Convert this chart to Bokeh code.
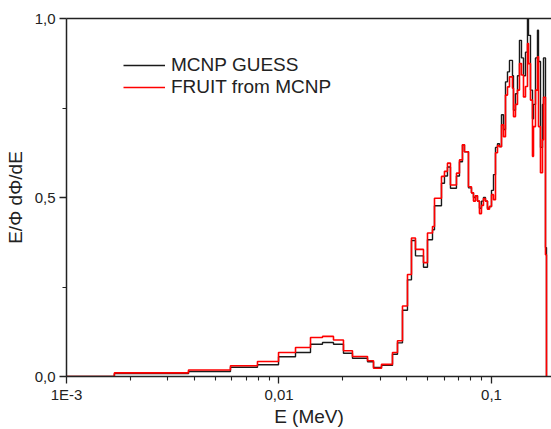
from bokeh.plotting import figure
from bokeh.models import (Range1d, FixedTicker, LogAxis, Legend, LegendItem)
from bokeh.embed import file_html
from bokeh.resources import INLINE

# Energy bin edges (MeV)
edges = [0.001, 0.00168, 0.00375, 0.00591, 0.00792, 0.00995, 0.01196, 0.01407,
         0.01602, 0.01805, 0.02011, 0.02217, 0.0261, 0.02785, 0.03037, 0.0342,
         0.03611, 0.03812, 0.04024, 0.04202, 0.04388, 0.04786, 0.04998, 0.05277,
         0.05392, 0.05816, 0.06008, 0.06206, 0.06411, 0.06842, 0.07068, 0.07302,
         0.07462, 0.07792, 0.0805, 0.08226, 0.08406, 0.0859, 0.08778, 0.08971,
         0.09167, 0.09368, 0.09573, 0.09783, 0.1, 0.10219, 0.10443, 0.10672,
         0.10905, 0.11144, 0.11388, 0.11638, 0.11892, 0.12153, 0.12554, 0.12691,
         0.12969, 0.13253, 0.13543, 0.1384, 0.14143, 0.14454, 0.1477, 0.14931,
         0.15258, 0.15593, 0.15763, 0.16108, 0.16461, 0.1664, 0.17005, 0.17378,
         0.17567, 0.17952, 0.18148]

# MCNP GUESS (black)
mcnp_guess = [0, 0.008, 0.014, 0.026, 0.033, 0.055, 0.067, 0.090, 0.095, 0.090,
              0.065, 0.051, 0.041, 0.025, 0.031, 0.062, 0.094, 0.185, 0.270, 0.380,
              0.337, 0.305, 0.382, 0.410, 0.477, 0.540, 0.560, 0.585, 0.526, 0.560,
              0.600, 0.647, 0.628, 0.527, 0.513, 0.500, 0.505, 0.490, 0.470, 0.490,
              0.500, 0.490, 0.470, 0.475, 0.520, 0.564, 0.640, 0.650, 0.642, 0.731,
              0.690, 0.823, 0.851, 0.883, 0.840, 0.744, 0.790, 0.840, 0.939, 0.890,
              0.840, 0.906, 0.999, 0.953, 0.800, 0.720, 0.760, 0.890, 0.967, 0.880,
              0.640, 0.760, 0.890, 0.360]

# FRUIT from MCNP (red)
fruit = [0, 0.010, 0.018, 0.030, 0.042, 0.067, 0.081, 0.109, 0.112, 0.102,
         0.072, 0.056, 0.044, 0.023, 0.034, 0.067, 0.100, 0.197, 0.285, 0.387,
         0.355, 0.318, 0.401, 0.419, 0.498, 0.559, 0.573, 0.596, 0.535, 0.568,
         0.605, 0.647, 0.628, 0.530, 0.513, 0.490, 0.505, 0.490, 0.455, 0.478,
         0.497, 0.490, 0.467, 0.475, 0.508, 0.494, 0.625, 0.645, 0.642, 0.703,
         0.670, 0.786, 0.809, 0.837, 0.805, 0.726, 0.760, 0.800, 0.874, 0.842,
         0.781, 0.810, 0.930, 0.874, 0.772, 0.615, 0.698, 0.800, 0.893, 0.698,
         0.569, 0.661, 0.780, 0.340]

x_ticks = [0.001, 0.01, 0.1]
x_tick_labels = ["1E-3", "0,01", "0,1"]
y_ticks = [0.0, 0.5, 1.0]
y_tick_labels = ["0,0", "0,5", "1,0"]
y_minor = [0.25, 0.75]
x_minor = [k * d for d in (0.001, 0.01, 0.1) for k in range(2, 10)]

FONT = "Liberation Sans"

p = figure(width=551, height=429, x_axis_type="log",
           x_range=Range1d(0.001, 0.1916), y_range=Range1d(0.0, 1.0),
           output_backend="svg", toolbar_location=None,
           min_border_left=66, min_border_right=0, min_border_top=18,
           min_border_bottom=51)
p.outline_line_color = None
p.grid.visible = False
p.background_fill_color = "white"
p.border_fill_color = "white"

r_black = p.step(edges, mcnp_guess + [0], mode="after", line_color="#1a1a1a",
                 line_width=1.4)
r_red = p.step(edges, fruit + [0], mode="after", line_color="#ff0000",
               line_width=1.6)

xa = p.xaxis[0]
xa.ticker = FixedTicker(ticks=x_ticks, minor_ticks=x_minor)
xa.major_label_overrides = dict(zip(x_ticks, x_tick_labels))
xa.axis_label = "E (MeV)"
ya = p.yaxis[0]
ya.ticker = FixedTicker(ticks=y_ticks, minor_ticks=y_minor)
ya.major_label_overrides = dict(zip(y_ticks, y_tick_labels))
ya.axis_label = "E/\u03a6 d\u03a6/dE"

for ax in (xa, ya):
    ax.axis_line_color = "#222222"
    ax.axis_line_width = 1.5
    ax.major_tick_line_color = "#222222"
    ax.minor_tick_line_color = "#222222"
    ax.major_tick_line_width = 1.3
    ax.minor_tick_line_width = 1.1
    ax.major_tick_in = 0
    ax.major_tick_out = 7
    ax.minor_tick_in = 0
    ax.minor_tick_out = 4
    ax.major_label_text_font = FONT
    ax.major_label_text_font_size = "15px"
    ax.major_label_text_color = "#222222"
    ax.axis_label_text_font = FONT
    ax.axis_label_text_font_size = "19px"
    ax.axis_label_text_font_style = "normal"
    ax.axis_label_text_color = "#222222"

ya.major_label_standoff = 4
ya.axis_label_standoff = 6
xa.major_label_standoff = 2
xa.axis_label_standoff = 0

# top frame line
top = LogAxis(ticker=FixedTicker(ticks=[]), axis_line_color="#222222",
              axis_line_width=1.5, major_tick_line_color=None,
              minor_tick_line_color=None, major_label_text_font_size="0px")
p.add_layout(top, "above")

legend = Legend(items=[LegendItem(label="MCNP GUESS", renderers=[r_black]),
                       LegendItem(label="FRUIT from MCNP", renderers=[r_red])],
                location=(57, 278), border_line_color=None,
                background_fill_alpha=0, padding=0, margin=0, spacing=-2,
                glyph_width=42, glyph_height=20, label_height=20,
                label_standoff=6, label_text_font=FONT,
                label_text_font_size="19px", label_text_color="#222222")
p.add_layout(legend, "center")

open("out.html", "w").write(file_html(p, INLINE))
